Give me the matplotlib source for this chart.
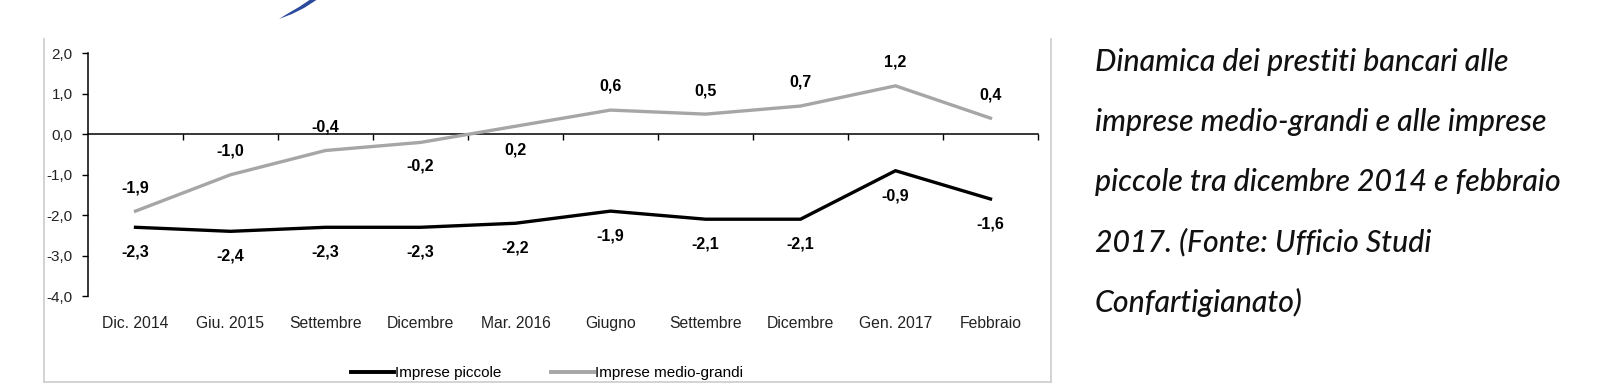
import numpy as np
import matplotlib.pyplot as plt
from matplotlib.lines import Line2D
from matplotlib.patches import PathPatch
from matplotlib.path import Path
from matplotlib.ticker import FuncFormatter

categories = ["Dic. 2014", "Giu. 2015", "Settembre", "Dicembre", "Mar. 2016",
              "Giugno", "Settembre", "Dicembre", "Gen. 2017", "Febbraio"]
piccole = [-2.3, -2.4, -2.3, -2.3, -2.2, -1.9, -2.1, -2.1, -0.9, -1.6]
medio_grandi = [-1.9, -1.0, -0.4, -0.2, 0.2, 0.6, 0.5, 0.7, 1.2, 0.4]
# which gray labels sit below the line
mg_below = [False, False, False, True, True, False, False, False, False, False]

caption = ["Dinamica dei prestiti bancari alle",
           "imprese medio-grandi e alle imprese",
           "piccole tra dicembre 2014 e febbraio",
           "2017. (Fonte: Ufficio Studi",
           "Confartigianato)"]

NARROW = ["Liberation Sans Narrow", "Liberation Sans", "DejaVu Sans"]
W, H = 1610, 390

fig = plt.figure(figsize=(16.1, 3.9), dpi=100)
ax = fig.add_axes([88 / W, 1 - 296 / H, 950 / W, (296 - 53.5) / H])

x = np.arange(len(categories))
ax.plot(x, medio_grandi, color="#a6a6a6", lw=2.4, solid_joinstyle="round",
        label="Imprese medio-grandi", zorder=3)
ax.plot(x, piccole, color="black", lw=2.4, solid_joinstyle="round",
        label="Imprese piccole", zorder=4)

ax.set_xlim(-0.5, len(categories) - 0.5)
ax.set_ylim(-4, 2)
ax.set_yticks(np.arange(-4, 2.1, 1))
ax.yaxis.set_major_formatter(FuncFormatter(lambda v, p: f"{v:.1f}".replace(".", ",")))
ax.tick_params(axis="y", direction="out", length=4, width=1, pad=7,
               labelsize=11, labelcolor="#222222")
for lab in ax.get_yticklabels():
    lab.set_family(NARROW)

ax.spines["top"].set_visible(False)
ax.spines["right"].set_visible(False)
ax.spines["bottom"].set_position(("data", 0))
ax.spines["left"].set_linewidth(1.1)
ax.spines["bottom"].set_linewidth(1.1)
ax.set_xticks(np.arange(0.5, len(categories), 1))
ax.set_xticklabels([])
ax.tick_params(axis="x", direction="out", length=4, width=1)

for i, c in enumerate(categories):
    ax.text(i, -0.112, c, transform=ax.get_xaxis_transform(), ha="center",
            va="center", fontsize=11.3, family=NARROW, color="#222222")

for i, v in enumerate(medio_grandi):
    dy = -17 if mg_below[i] else 17
    ax.annotate(f"{v:.1f}".replace(".", ","), (i, v), xytext=(0, dy),
                textcoords="offset points", ha="center", va="center",
                fontsize=11.5, fontweight="bold", family=NARROW)
for i, v in enumerate(piccole):
    ax.annotate(f"{v:.1f}".replace(".", ","), (i, v), xytext=(0, -18),
                textcoords="offset points", ha="center", va="center",
                fontsize=11.5, fontweight="bold", family=NARROW)

handles = [Line2D([], [], color="black", lw=2.8), Line2D([], [], color="#a6a6a6", lw=2.8)]
leg = fig.legend(handles, ["Imprese piccole", "Imprese medio-grandi"], loc="center",
                 bbox_to_anchor=(547 / W, 1 - 373 / H), ncol=2, frameon=False,
                 handlelength=2.8, handletextpad=0.05, columnspacing=3.3,
                 prop={"family": NARROW, "size": 11})

# light frame around the chart
frame = dict(color="#d0d0d0", lw=1.3, transform=fig.transFigure)
fig.add_artist(Line2D([43.5 / W, 43.5 / W], [1 - 39 / H, 1 - 382 / H], **frame))
fig.add_artist(Line2D([1051 / W, 1051 / W], [1 - 39 / H, 1 - 382 / H], **frame))
fig.add_artist(Line2D([43.5 / W, 1051 / W], [1 - 382 / H, 1 - 382 / H], **frame))

# blue swoosh of the logo at the top
pts = [(279, 19), (292, 14), (304, 8), (318, -1), (311, -1), (299, 7), (287, 14), (279, 19)]
verts = [(px / W, 1 - py / H) for px, py in pts]
codes = [Path.MOVETO] + [Path.LINETO] * (len(verts) - 2) + [Path.CLOSEPOLY]
fig.add_artist(PathPatch(Path(verts, codes), facecolor="#2b4a9b", edgecolor="none",
                         transform=fig.transFigure))

for i, line in enumerate(caption):
    fig.text(1095 / W, 1 - (62 + 60 * i) / H, line, ha="left", va="center",
             fontsize=21.8, style="italic", fontweight="medium",
             family=["Lato", "DejaVu Sans"], color="#111111")

fig.savefig("out.png", dpi=100)
